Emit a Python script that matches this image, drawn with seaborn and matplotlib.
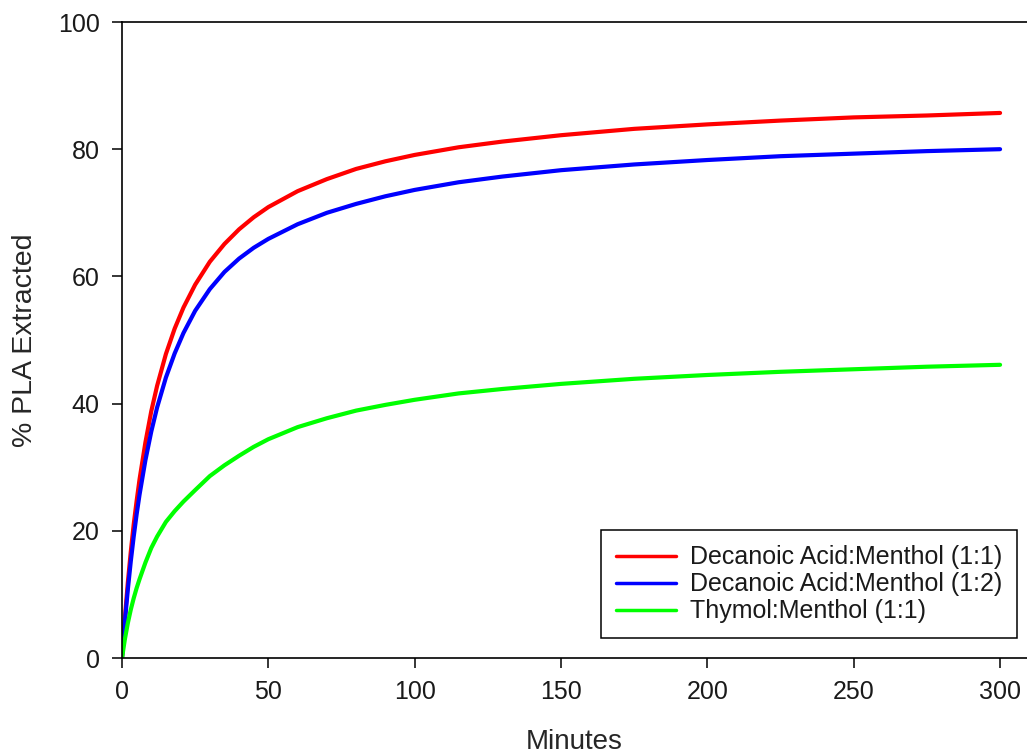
import numpy as np
import pandas as pd
import seaborn as sns
import matplotlib.pyplot as plt

minutes = [0, 1, 2, 3, 4, 5, 6, 8, 10, 12, 15, 18, 21, 25, 30, 35, 40, 45, 50,
           60, 70, 80, 90, 100, 115, 130, 150, 175, 200, 225, 250, 275, 300]
da_11 = [0, 6.4, 11.9, 16.7, 21.0, 24.7, 28.1, 33.9, 38.8, 42.8, 47.8, 51.8, 55.1,
         58.7, 62.3, 65.1, 67.4, 69.3, 70.9, 73.4, 75.3, 76.9, 78.1, 79.1, 80.3,
         81.2, 82.2, 83.2, 83.9, 84.5, 85.0, 85.3, 85.7]
da_12 = [0, 5.8, 10.8, 15.2, 19.1, 22.6, 25.7, 31.1, 35.6, 39.4, 44.1, 47.9, 51.1,
         54.6, 58.0, 60.7, 62.8, 64.5, 65.9, 68.2, 70.0, 71.4, 72.6, 73.6, 74.8,
         75.7, 76.7, 77.6, 78.3, 78.9, 79.3, 79.7, 80.0]
tm_11 = [0, 3.0, 5.5, 7.6, 9.4, 11.0, 12.4, 15.0, 17.3, 19.1, 21.4, 23.1, 24.6,
         26.4, 28.6, 30.3, 31.8, 33.2, 34.4, 36.3, 37.7, 38.9, 39.8, 40.6, 41.6,
         42.3, 43.1, 43.9, 44.5, 45.0, 45.4, 45.8, 46.1]

labels = ["Decanoic Acid:Menthol (1:1)", "Decanoic Acid:Menthol (1:2)", "Thymol:Menthol (1:1)"]
colors = ["#ff0000", "#0000ff", "#00ff00"]
x_ticks = [0, 50, 100, 150, 200, 250, 300]
y_ticks = [0, 20, 40, 60, 80, 100]

df = pd.concat([
    pd.DataFrame({"Minutes": minutes, "value": vals, "series": lab})
    for vals, lab in zip([da_11, da_12, tm_11], labels)
])

sns.set_style("ticks")
plt.rcParams["font.family"] = ["Liberation Sans", "DejaVu Sans"]
plt.rcParams["text.color"] = "#1a1a1a"

fig = plt.figure(figsize=(10.27, 7.54), dpi=100)
ax = fig.add_axes([122 / 1027, 96 / 754, 905 / 1027, 636 / 754])

sns.lineplot(data=df, x="Minutes", y="value", hue="series", hue_order=labels,
             palette=colors, linewidth=3.0, ax=ax, legend=True)

ax.set_xlim(0, 309.2)
ax.set_ylim(0, 100)
ax.set_xticks(x_ticks)
ax.set_yticks(y_ticks)
ax.spines["right"].set_visible(False)
for s in ["left", "bottom", "top"]:
    ax.spines[s].set_linewidth(1.2)
    ax.spines[s].set_color("black")
ax.tick_params(axis="both", direction="out", length=7, width=1.1, color="black",
               labelcolor="#1a1a1a", labelsize=18)
ax.tick_params(axis="x", pad=9)
ax.tick_params(axis="y", pad=9)
ax.set_xlabel("Minutes", fontsize=20, labelpad=18)
ax.set_ylabel("% PLA Extracted", fontsize=20.5, labelpad=14)

handles, labs = ax.get_legend_handles_labels()
for h in handles:
    h.set_linewidth(2.5)
leg = ax.legend(handles, labs, loc="lower right", bbox_to_anchor=(0.989, 0.031),
                fontsize=18, frameon=True, fancybox=False, edgecolor="black",
                framealpha=1, handlelength=2.4, handletextpad=0.55,
                labelspacing=0.12, borderpad=0.6, borderaxespad=0)
leg.get_frame().set_linewidth(1.1)

fig.savefig("out.png", dpi=100)
